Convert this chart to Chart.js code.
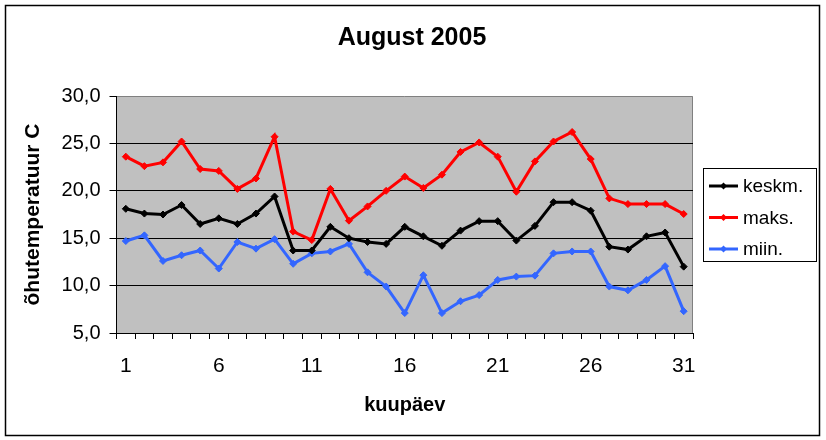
<!DOCTYPE html>
<html>
<head>
<meta charset="utf-8">
<script src="https://cdn.jsdelivr.net/npm/chart.js@4/dist/chart.umd.min.js"></script>
<style>
html,body{margin:0;padding:0;background:#fff;}
#wrap{width:826px;height:440px;}
</style>
</head>
<body>
<div id="wrap"><canvas id="c" width="826" height="440"></canvas></div>
<script>
const days = ['1','2','3','4','5','6','7','8','9','10','11','12','13','14','15','16','17','18','19','20','21','22','23','24','25','26','27','28','29','30','31'];
const keskm = [18.1,17.6,17.5,18.5,16.5,17.1,16.5,17.6,19.4,13.7,13.7,16.2,15.0,14.6,14.4,16.2,15.2,14.2,15.8,16.8,16.8,14.75,16.3,18.8,18.8,17.9,14.1,13.8,15.2,15.6,12.0];
const maks = [23.6,22.6,23.0,25.2,22.3,22.1,20.2,21.3,25.7,15.7,14.8,20.2,16.85,18.35,20.0,21.5,20.3,21.7,24.1,25.1,23.6,19.9,23.1,25.2,26.2,23.35,19.2,18.6,18.6,18.6,17.55];
const miin = [14.7,15.3,12.6,13.2,13.7,11.8,14.6,13.9,14.9,12.3,13.4,13.6,14.4,11.4,9.9,7.1,11.1,7.1,8.35,9.0,10.6,10.95,11.05,13.4,13.6,13.6,9.9,9.5,10.6,12.05,7.3];
const seriesNames = ['keskm.','maks.','miin.'];
const xTickLabels = ['1','6','11','16','21','26','31'];
const yTickValues = [5,10,15,20,25,30];
const titleText = 'August 2005';
const xTitle = 'kuupäev';
const yTitle = 'õhutemperatuur C';

const FONT = '"Liberation Sans", Arial, sans-serif';
Chart.defaults.color = '#000';
Chart.defaults.font.family = FONT;

const bgPlugin = {
  id: 'bg',
  beforeDraw(chart) {
    const ctx = chart.ctx, a = chart.chartArea;
    ctx.save();
    ctx.fillStyle = '#fff';
    ctx.fillRect(0, 0, chart.width, chart.height);
    ctx.strokeStyle = '#000';
    ctx.lineWidth = 1.5;
    ctx.strokeRect(5.5, 5.5, 814, 430);
    ctx.fillStyle = '#c0c0c0';
    ctx.fillRect(a.left, a.top, a.right - a.left, a.bottom - a.top);
    ctx.strokeStyle = '#808080';
    ctx.lineWidth = 1;
    ctx.beginPath();
    ctx.moveTo(a.left, a.top + 0.5);
    ctx.lineTo(a.right - 0.5, a.top + 0.5);
    ctx.lineTo(a.right - 0.5, a.bottom);
    ctx.stroke();
    ctx.fillStyle = '#000';
    ctx.font = 'bold 25px ' + FONT;
    ctx.textAlign = 'center';
    ctx.textBaseline = 'middle';
    ctx.fillText(titleText, 412, 38);
    ctx.restore();
  }
};

const legendPlugin = {
  id: 'boxLegend',
  afterDraw(chart) {
    const ctx = chart.ctx;
    const x0 = 703, y0 = 168, w = 113, h = 93;
    ctx.save();
    ctx.fillStyle = '#fff';
    ctx.fillRect(x0, y0, w, h);
    ctx.strokeStyle = '#000';
    ctx.lineWidth = 1;
    ctx.strokeRect(x0 + 0.5, y0 + 0.5, w, h);
    const rowsY = [186, 217.5, 249];
    chart.data.datasets.forEach((ds, i) => {
      const y = rowsY[i];
      ctx.strokeStyle = ds.borderColor;
      ctx.lineWidth = 3;
      ctx.beginPath();
      ctx.moveTo(709, y);
      ctx.lineTo(738, y);
      ctx.stroke();
      ctx.fillStyle = ds.borderColor;
      ctx.beginPath();
      const cx = 723.5, r = 3.5;
      ctx.moveTo(cx, y - r); ctx.lineTo(cx + r, y); ctx.lineTo(cx, y + r); ctx.lineTo(cx - r, y); ctx.closePath();
      ctx.fill();
      ctx.fillStyle = '#000';
      ctx.font = '19px ' + FONT;
      ctx.textBaseline = 'middle';
      ctx.textAlign = 'left';
      ctx.fillText(ds.label, 743, y + 1);
    });
    ctx.restore();
  }
};

function mkDs(label, data, color) {
  return {
    label, data,
    borderColor: color, backgroundColor: color,
    borderWidth: 3,
    pointStyle: 'rectRot', pointRadius: 3.5, pointHoverRadius: 3.5,
    pointBorderWidth: 1,
    tension: 0, fill: false
  };
}

new Chart(document.getElementById('c'), {
  type: 'line',
  data: {
    labels: days,
    datasets: [
      mkDs(seriesNames[0], keskm, '#000000'),
      mkDs(seriesNames[1], maks, '#ff0000'),
      mkDs(seriesNames[2], miin, '#3366ff')
    ]
  },
  options: {
    responsive: false,
    animation: false,
    devicePixelRatio: 1,
    layout: { padding: { left: 8, right: 133, top: 96, bottom: 0 } },
    plugins: {
      legend: { display: false },
      tooltip: { enabled: false },
      title: { display: false }
    },
    scales: {
      x: {
        offset: true,
        grid: { offset: true, drawOnChartArea: false, drawTicks: true, tickLength: 6, tickColor: '#000', color: '#000' },
        border: { color: '#000', width: 1 },
        ticks: {
          autoSkip: false, maxRotation: 0, minRotation: 0, padding: 15,
          font: { size: 21, family: FONT }, color: '#000',
          callback: function(v, i) { const l = this.getLabelForValue(v); return xTickLabels.includes(l) ? l : ''; }
        },
        title: { display: true, text: xTitle, font: { size: 20, weight: 'bold', family: FONT }, color: '#000', padding: { top: 0, bottom: 23 } },
        afterFit(s) { s.height = 107; }
      },
      y: {
        min: 5, max: 30,
        afterBuildTicks(s) { s.ticks = yTickValues.map(v => ({ value: v })); },
        grid: {
          color: (c) => (c.tick && (c.tick.value === 30 || c.tick.value === 5)) ? 'rgba(0,0,0,0)' : '#000',
          tickColor: '#000', tickLength: 7, lineWidth: 1
        },
        border: { color: '#000', width: 1 },
        ticks: {
          padding: 9, font: { size: 20, family: FONT }, color: '#000',
          callback: (v) => Number(v).toFixed(1).replace('.', ',')
        },
        title: { display: true, text: yTitle, font: { size: 21, weight: 'bold', family: FONT }, color: '#000', padding: { top: 13, bottom: 0 } },
        afterFit(s) { s.width = 108.5; }
      }
    }
  },
  plugins: [bgPlugin, legendPlugin]
});
</script>
</body>
</html>
